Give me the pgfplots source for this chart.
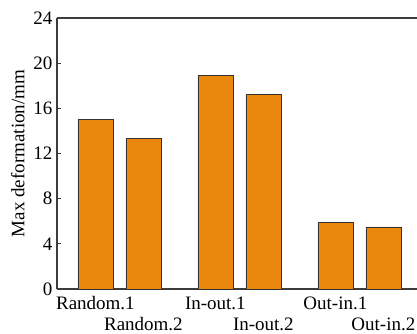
\documentclass[border=0pt]{standalone}
\usepackage{fontspec}
\setmainfont{Liberation Serif}
\usepackage{pgfplots}
\pgfplotsset{compat=1.18}
\definecolor{barorange}{RGB}{234,136,14}
\definecolor{axgray}{RGB}{60,60,60}
\newcommand{\lblfont}{\fontsize{19bp}{21bp}\selectfont}
\begin{document}
\begin{tikzpicture}
\begin{axis}[
  name=ax,
  scale only axis,
  width=360bp, height=271bp,
  xmin=-0.8, xmax=6.7,
  ymin=0, ymax=24,
  ytick={0,4,...,24},
  xtick={0,2.5,5},
  xticklabels={Random.1,In-out.1,Out-in.1},
  extra x ticks={1,3.5,6},
  extra x tick labels={Random.2,In-out.2,Out-in.2},
  extra x tick style={xticklabel style={yshift=-21bp}},
  x tick style={draw=none},
  axis x line*=bottom,
  axis y line*=left,
  axis line style={draw=axgray, line width=1.1pt},
  y tick style={draw=axgray, line width=0.8pt},
  tick align=inside,
  major tick length=4bp,
  /pgf/number format/assume math mode=true,
  tick label style={font=\lblfont},
  yticklabel style={xshift=-1bp},
  xticklabel style={yshift=0bp},
  ylabel={Max deformation/mm},
  ylabel style={font=\lblfont, yshift=2bp},
  ybar, bar width=35bp,
]
\addplot[fill=barorange, draw=black!80, line width=0.7pt] coordinates {
  (0,15.0) (1,13.3) (2.5,18.9) (3.5,17.2) (5,5.9) (6,5.5)
};
\end{axis}
\draw[axgray, line width=1.1pt] (ax.north west) -- (ax.north east);
\pgfresetboundingbox
\path[use as bounding box] ([xshift=-57bp,yshift=-45bp]ax.south west) rectangle ([yshift=18bp]ax.north east);
\end{tikzpicture}
\end{document}
